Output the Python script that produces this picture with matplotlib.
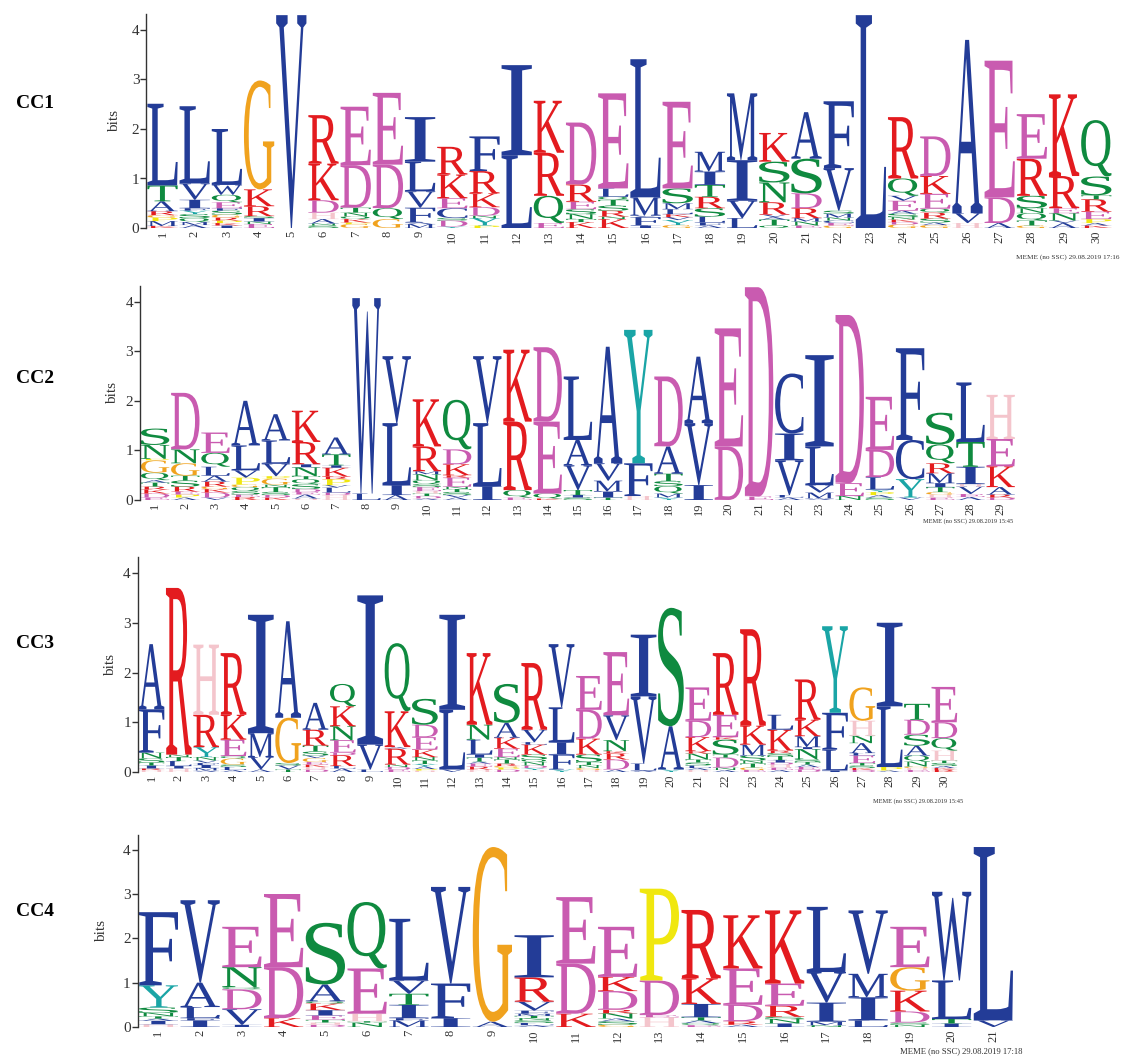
import matplotlib
matplotlib.use('Agg')
import matplotlib.pyplot as plt
from matplotlib.textpath import TextPath
from matplotlib.patches import PathPatch
from matplotlib.font_manager import FontProperties
from matplotlib.transforms import Affine2D

# each stack: letters bottom -> top, heights in bits
cc1_letters = ["KMPGRATL", "AMQSYFIVL", "IKPRGSFEQWL", "ENISRKG", "V", "SNAHDKR", "GPKQNTDE", "GQDE",
               "MAFVLI", "YDSCEKR", "PYNDKRF", "LI", "EQRK", "KTNSERD", "KNRSTQLE", "IFVML",
               "GYVKLMSE", "AFLSRTIM", "LVIM", "QTAVRNSK", "ENMRDSA", "GECNMSVF", "L",
               "GDKNSAEVQR", "GASRQEKD", "HVA", "ADE", "GTQNSRE", "AVNERK", "KAPERTSQ"]
cc1_heights = [[0.04, 0.1, 0.07, 0.05, 0.08, 0.2, 0.32, 1.65],
               [0.06, 0.06, 0.08, 0.08, 0.07, 0.05, 0.17, 0.33, 1.56],
               [0.05, 0.05, 0.05, 0.06, 0.06, 0.08, 0.05, 0.12, 0.15, 0.2, 1.13],
               [0.08, 0.05, 0.07, 0.04, 0.2, 0.34, 2.2],
               [4.3],
               [0.05, 0.04, 0.09, 0.13, 0.25, 0.74, 0.98],
               [0.08, 0.03, 0.07, 0.05, 0.08, 0.1, 0.86, 1.18],
               [0.18, 0.22, 0.88, 1.45],
               [0.08, 0.03, 0.3, 0.33, 0.6, 0.9],
               [0.03, 0.12, 0.05, 0.2, 0.2, 0.48, 0.56],
               [0.05, 0.15, 0.05, 0.17, 0.28, 0.45, 0.7],
               [1.47, 1.82],
               [0.1, 0.55, 0.87, 1.05],
               [0.12, 0.06, 0.1, 0.1, 0.15, 0.35, 1.25],
               [0.18, 0.05, 0.12, 0.1, 0.12, 0.06, 0.17, 1.92],
               [0.05, 0.17, 0.03, 0.37, 2.79],
               [0.06, 0.1, 0.06, 0.06, 0.1, 0.12, 0.3, 1.75],
               [0.05, 0.06, 0.12, 0.17, 0.23, 0.24, 0.27, 0.4],
               [0.2, 0.35, 0.82, 1.35],
               [0.05, 0.12, 0.05, 0.05, 0.25, 0.4, 0.42, 0.58],
               [0.05, 0.08, 0.07, 0.2, 0.3, 0.7, 0.94],
               [0.05, 0.05, 0.05, 0.06, 0.08, 0.06, 0.86, 1.35],
               [4.3],
               [0.07, 0.05, 0.05, 0.05, 0.07, 0.06, 0.2, 0.1, 0.35, 1.24],
               [0.06, 0.05, 0.08, 0.12, 0.08, 0.3, 0.36, 0.8],
               [0.1, 0.2, 3.5],
               [0.1, 0.52, 2.76],
               [0.05, 0.1, 0.15, 0.1, 0.25, 0.75, 0.9],
               [0.1, 0.05, 0.15, 0.1, 0.65, 1.65],
               [0.05, 0.05, 0.08, 0.15, 0.25, 0.08, 0.38, 1.14]]

cc2_letters = ["EDKRTAQGPNS", "APERSTGND", "VDKGRALQE", "RESQGPVLA", "KDSTNGPVLA", "HAEDSQTNIRK",
               "HDLVPRKITA", "LW", "AILV", "ADTHESQNMRK", "AVSTNERKDQ", "ILV", "EQRK", "KQED",
               "SITVAL", "TIMVA", "HFY", "YMQSTAD", "IVA", "DE", "ED", "ALVIC", "AMVLI", "NED",
               "SAPYLDE", "VYCF", "EHGTIMRQS", "AEVHITL", "DRAKEH"]
cc2_heights = [[0.05, 0.08, 0.08, 0.06, 0.08, 0.05, 0.15, 0.25, 0.03, 0.28, 0.33],
               [0.05, 0.06, 0.06, 0.1, 0.12, 0.1, 0.25, 0.28, 1.14],
               [0.05, 0.1, 0.07, 0.05, 0.1, 0.12, 0.18, 0.28, 0.41],
               [0.06, 0.05, 0.07, 0.08, 0.05, 0.14, 0.15, 0.5, 0.9],
               [0.05, 0.05, 0.06, 0.1, 0.05, 0.12, 0.05, 0.25, 0.47, 0.53],
               [0.03, 0.08, 0.05, 0.06, 0.1, 0.1, 0.06, 0.18, 0.06, 0.45, 0.63],
               [0.1, 0.05, 0.1, 0.05, 0.12, 0.05, 0.18, 0.05, 0.22, 0.34],
               [0.13, 3.94],
               [0.1, 0.2, 1.25, 1.35],
               [0.03, 0.05, 0.05, 0.05, 0.08, 0.06, 0.08, 0.12, 0.06, 0.5, 0.95],
               [0.05, 0.05, 0.06, 0.06, 0.05, 0.18, 0.05, 0.22, 0.3, 1.0],
               [0.28, 1.27, 1.35],
               [0.05, 0.15, 1.38, 1.45],
               [0.03, 0.1, 1.45, 1.5],
               [0.05, 0.05, 0.1, 0.5, 0.51, 1.28],
               [0.05, 0.12, 0.22, 0.35, 2.35],
               [0.08, 0.66, 2.69],
               [0.05, 0.08, 0.15, 0.1, 0.15, 0.55, 1.41],
               [0.3, 1.25, 1.34],
               [1.08, 2.38],
               [0.07, 4.22],
               [0.05, 0.05, 0.7, 0.54, 1.21],
               [0.03, 0.12, 0.15, 0.78, 1.84],
               [0.08, 0.26, 3.39],
               [0.05, 0.05, 0.06, 0.05, 0.25, 0.55, 1.07],
               [0.05, 0.37, 0.79, 1.85],
               [0.05, 0.06, 0.05, 0.1, 0.08, 0.2, 0.2, 0.38, 0.64],
               [0.06, 0.06, 0.15, 0.05, 0.35, 0.5, 1.2],
               [0.05, 0.06, 0.15, 0.42, 0.55, 0.89]]

cc3_letters = ["HRITSNFA", "HILTNR", "AMIFVNYRH", "ALSGQEKR", "AVMI", "TVSGA", "DHKEGVSTRA",
               "ALRDENKQ", "LVI", "EDNRAKQ", "HPAYTNKEDS", "VLI", "HREATILNK", "DPGRTNEKAS",
               "HYDNQSKLVR", "YFILV", "HGNTSKDE", "ADRKNVE", "ALVI", "YAS", "HALSTNRKDE",
               "ANDTSKER", "EGTNSMKR", "AEHDITSRKL", "DEATSNIMKR", "ILFY", "DKSTELANHG", "APLI",
               "EHGNQASDT", "RKASTHQDE"]
cc3_heights = [[0.04, 0.03, 0.06, 0.06, 0.08, 0.12, 0.87, 1.31],
               [0.07, 0.05, 0.1, 0.08, 0.05, 3.35],
               [0.03, 0.05, 0.06, 0.04, 0.05, 0.07, 0.2, 0.65, 1.41],
               [0.04, 0.06, 0.05, 0.12, 0.05, 0.33, 0.5, 1.24],
               [0.05, 0.25, 0.48, 2.38],
               [0.05, 0.08, 0.05, 0.91, 1.94],
               [0.05, 0.05, 0.05, 0.05, 0.08, 0.05, 0.08, 0.12, 0.32, 0.54],
               [0.07, 0.05, 0.22, 0.05, 0.25, 0.28, 0.4, 0.45],
               [0.05, 0.5, 3.0],
               [0.05, 0.05, 0.05, 0.32, 0.03, 0.72, 1.37],
               [0.03, 0.03, 0.05, 0.05, 0.07, 0.07, 0.15, 0.25, 0.25, 0.52],
               [0.05, 1.2, 1.91],
               [0.05, 0.06, 0.06, 0.04, 0.08, 0.06, 0.3, 0.3, 1.44],
               [0.05, 0.04, 0.03, 0.05, 0.08, 0.05, 0.17, 0.22, 0.3, 0.78],
               [0.04, 0.04, 0.05, 0.07, 0.05, 0.1, 0.2, 0.05, 0.25, 1.34],
               [0.05, 0.3, 0.25, 0.7, 1.27],
               [0.04, 0.04, 0.06, 0.06, 0.15, 0.32, 0.58, 0.68],
               [0.05, 0.2, 0.12, 0.05, 0.22, 0.5, 1.27],
               [0.03, 0.14, 1.35, 1.24],
               [0.05, 0.87, 2.38],
               [0.04, 0.04, 0.05, 0.06, 0.06, 0.12, 0.05, 0.28, 0.33, 0.67],
               [0.04, 0.05, 0.2, 0.06, 0.3, 0.05, 0.45, 1.24],
               [0.04, 0.05, 0.08, 0.06, 0.1, 0.22, 0.38, 1.94],
               [0.04, 0.05, 0.06, 0.04, 0.05, 0.08, 0.06, 0.05, 0.42, 0.3],
               [0.05, 0.05, 0.05, 0.05, 0.06, 0.2, 0.04, 0.22, 0.33, 0.81],
               [0.03, 0.42, 0.74, 1.74],
               [0.04, 0.04, 0.05, 0.05, 0.15, 0.05, 0.2, 0.15, 0.3, 0.67],
               [0.03, 0.07, 1.22, 1.68],
               [0.04, 0.04, 0.03, 0.1, 0.12, 0.2, 0.22, 0.3, 0.32],
               [0.04, 0.04, 0.04, 0.06, 0.05, 0.2, 0.25, 0.32, 0.71]]

cc4_letters = ["HIATNSYF", "IFLAV", "IVDQNE", "KDE", "DHTEIKQAS", "NTHEQ", "MFITVL", "IFV", "AG",
               "ALSNTMFVRI", "KDE", "GSANRDKE", "HEDP", "EQATIKR", "ARDEK", "INSREK", "NMIVL",
               "LIMV", "NSDKGE", "ITLW", "VL"]
cc4_heights = [[0.06, 0.08, 0.05, 0.05, 0.08, 0.12, 0.5, 1.65],
               [0.15, 0.05, 0.25, 0.55, 1.86],
               [0.05, 0.35, 0.45, 0.05, 0.45, 0.91],
               [0.2, 1.15, 1.65],
               [0.05, 0.05, 0.06, 0.1, 0.12, 0.15, 0.05, 0.38, 1.39],
               [0.1, 0.03, 0.17, 1.02, 1.5],
               [0.15, 0.05, 0.3, 0.25, 0.3, 1.39],
               [0.2, 0.78, 2.18],
               [0.12, 3.94],
               [0.04, 0.05, 0.06, 0.05, 0.05, 0.05, 0.07, 0.2, 0.55, 0.95],
               [0.3, 1.13, 1.5],
               [0.05, 0.08, 0.06, 0.12, 0.08, 0.42, 0.32, 1.13],
               [0.22, 0.05, 0.78, 2.07],
               [0.04, 0.05, 0.06, 0.07, 0.3, 0.58, 1.54],
               [0.05, 0.08, 0.37, 0.82, 1.2],
               [0.08, 0.1, 0.05, 0.25, 0.5, 1.65],
               [0.04, 0.08, 0.43, 0.69, 1.47],
               [0.15, 0.52, 0.53, 1.43],
               [0.05, 0.05, 0.25, 0.47, 0.53, 0.91],
               [0.08, 0.1, 0.87, 2.0],
               [0.15, 3.91]]

names = ["CC1", "CC2", "CC3", "CC4"]
footers = ["MEME (no SSC) 29.08.2019 17:16", "MEME (no SSC) 29.08.2019 15:45",
           "MEME (no SSC) 29.08.2019 15:45", "MEME (no SSC) 29.08.2019 17:18"]

blue, green, mag, red = '#233c97', '#0f8a3f', '#c95bb0', '#e31b1f'
colors = {}
for c in 'ACFILVWM':
    colors[c] = blue
for c in 'NQST':
    colors[c] = green
for c in 'DE':
    colors[c] = mag
for c in 'KR':
    colors[c] = red
colors.update({'H': '#f4c5cc', 'G': '#f0a21e', 'P': '#f0e70f', 'Y': '#1aa5a6'})

serif = FontProperties(family='Liberation Serif')
W, H = 1144, 1058

# pixel layout: axis left, column width, zero line, px per bit, ylabel offset, name y, footer x/y/size
layout = [(146.4, 32.2, 228, 49.5, -25, 104, 1120, 257, 5.2),
          (140.0, 30.2, 500, 49.6, -21, 378, 1013, 521, 4.6),
          (137.8, 27.34, 772, 49.75, -21, 644, 963, 801, 4.6),
          (137.5, 41.75, 1027, 44.33, -29, 912, 1022, 1051, 6.2)]


def draw_letter(ax, ch, x, y, w, h):
    tp = TextPath((0, 0), ch, size=1, prop=serif)
    bb = tp.get_extents()
    t = Affine2D().translate(-bb.x0, -bb.y0).scale(w / bb.width, h / bb.height).translate(x - w / 2, y)
    ax.add_patch(PathPatch(t.transform_path(tp), fc=colors[ch], ec='none', lw=0))


fig = plt.figure(figsize=(W / 100, H / 100), dpi=100)
panels = [(cc1_letters, cc1_heights), (cc2_letters, cc2_heights),
          (cc3_letters, cc3_heights), (cc4_letters, cc4_heights)]
ymax = 4.32
for (letters, heights), name, foot, lay in zip(panels, names, footers, layout):
    left, col, zero, bit, ylab, name_y, fx, fy, fs = lay
    n = len(letters)
    ax = fig.add_axes([left / W, (H - zero) / H, n * col / W, ymax * bit / H])
    for i, (lets, hs) in enumerate(zip(letters, heights)):
        y = 0
        for ch, h in zip(lets, hs):
            draw_letter(ax, ch, i + 1, y, 0.94, h)
            y += h
    ax.set_xlim(0.5, n + 0.5)
    ax.set_ylim(0, ymax)
    for s in ['top', 'right', 'bottom']:
        ax.spines[s].set_visible(False)
    ax.spines['left'].set_color('#333333')
    ax.spines['left'].set_linewidth(1)
    ax.set_yticks([0, 1, 2, 3, 4])
    ax.set_xticks(range(1, n + 1))
    ax.set_xticklabels([str(k) for k in range(1, n + 1)], rotation=90, fontfamily='Liberation Serif',
                       fontsize=9, color='#333333')
    ax.set_yticklabels(['0', '1', '2', '3', '4'], fontfamily='Liberation Serif', fontsize=11,
                       color='#333333')
    ax.tick_params(axis='x', length=0, pad=2)
    ax.tick_params(axis='y', length=4, width=1, color='#333333', pad=1)
    ax.set_ylabel('bits', fontfamily='Liberation Serif', fontsize=11, color='#333333')
    ax.yaxis.set_label_coords(ylab / (n * col), 0.5)
    fig.text(35 / W, 1 - name_y / H, name, ha='center', va='center', fontsize=14,
             fontweight='bold', fontfamily='Liberation Serif')
    fig.text(fx / W, 1 - fy / H, foot, ha='right', va='center', fontsize=fs,
             fontfamily='Liberation Serif', color='#333333')

fig.savefig('out.png', dpi=100)
